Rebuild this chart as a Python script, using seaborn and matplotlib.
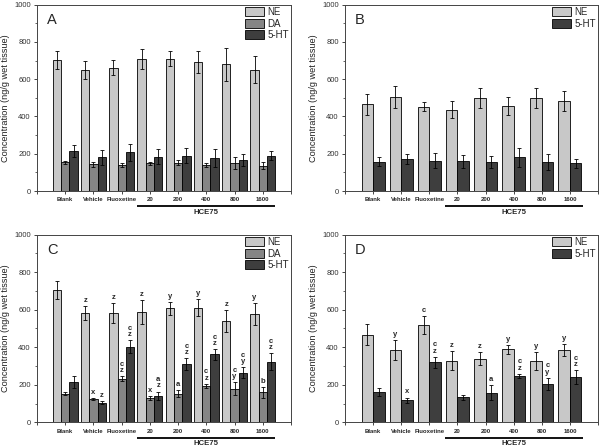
import numpy as np
import pandas as pd
import matplotlib
matplotlib.use("Agg")
import matplotlib.pyplot as plt
import matplotlib.transforms as mtrans
from matplotlib.ticker import MultipleLocator
import seaborn as sns

groups = ["Blank", "Vehicle", "Fluoxetine", "20", "200", "400", "800", "1600"]
series3 = ["NE", "DA", "5-HT"]
series2 = ["NE", "5-HT"]

# Panel A
A_NE = [703, 647, 662, 709, 711, 693, 680, 652]
A_NE_err = [50, 48, 40, 55, 38, 60, 90, 75]
A_DA = [153, 143, 140, 148, 152, 140, 150, 135]
A_DA_err = [10, 12, 12, 10, 12, 12, 33, 18]
A_HT = [215, 182, 208, 185, 190, 178, 168, 190]
A_HT_err = [33, 40, 45, 40, 40, 48, 32, 25]

# Panel B
B_NE = [465, 505, 453, 437, 498, 458, 498, 484]
B_NE_err = [55, 58, 25, 45, 55, 48, 55, 55]
B_HT = [158, 172, 163, 160, 158, 180, 154, 148]
B_HT_err = [22, 25, 42, 35, 32, 52, 42, 25]

# Panel C
C_NE = [705, 582, 583, 588, 608, 610, 540, 578]
C_NE_err = [50, 38, 55, 62, 35, 45, 58, 58]
C_DA = [153, 125, 233, 130, 153, 195, 180, 160]
C_DA_err = [10, 6, 12, 10, 18, 10, 33, 28]
C_HT = [215, 105, 403, 142, 310, 362, 265, 322]
C_HT_err = [32, 10, 33, 22, 33, 28, 28, 45]
C_NE_lab = ["", "z", "z", "z", "y", "y", "z", "y"]
C_DA_lab = ["", "x", "c\nz", "x", "a", "c\nz", "c\ny", "b"]
C_HT_lab = ["", "z", "c\nz", "a\nz", "c\nz", "c\nz", "c\ny", "c\nz"]

# Panel D
D_NE = [467, 385, 518, 328, 338, 388, 328, 385]
D_NE_err = [55, 55, 50, 50, 35, 25, 48, 33]
D_HT = [160, 117, 320, 133, 158, 247, 205, 240]
D_HT_err = [22, 15, 30, 12, 40, 12, 32, 38]
D_NE_lab = ["", "y", "c", "z", "z", "y", "y", "y"]
D_HT_lab = ["", "x", "c\nz", "", "a", "c\nz", "c\ny", "c\nz"]

colors = {"NE": "#c8c8c8", "DA": "#858585", "5-HT": "#3e3e3e"}

sns.set_style("ticks")
plt.rcParams["font.family"] = ["Liberation Sans", "DejaVu Sans"]

fig = plt.figure(figsize=(6, 4.47), dpi=100)

def panel(rect, letter, names, vals, errs, labs, width):
    ax = fig.add_axes(rect)
    rows = []
    for name, v in zip(names, vals):
        for g, val in zip(groups, v):
            rows.append({"group": g, "series": name, "value": val})
    df = pd.DataFrame(rows)
    sns.barplot(data=df, x="group", y="value", hue="series", order=groups,
                hue_order=names, palette=[colors[n] for n in names],
                width=width, edgecolor="black", linewidth=0.6, errorbar=None,
                saturation=1, ax=ax)
    for cont, v, e, lab in zip(ax.containers, vals, errs, labs):
        xs = [p.get_x() + p.get_width() / 2 for p in cont.patches]
        ax.errorbar(xs, v, yerr=e, fmt="none", ecolor="black",
                    elinewidth=0.6, capsize=1.5, capthick=0.6, zorder=5)
        if lab is not None:
            for x, val, er, t in zip(xs, v, e, lab):
                if t:
                    ax.annotate(t, (x, val + er), xytext=(0, 1.5),
                                textcoords="offset points", ha="center",
                                va="bottom", fontsize=5.5, fontweight="bold",
                                linespacing=0.85)
    ax.set_xlim(-1, 8)
    ax.set_ylim(0, 1000)
    ax.set_xticks(range(-1, 9))
    ax.set_xticklabels([""] + groups + [""], fontsize=4.3, fontweight="bold")
    ax.yaxis.set_major_locator(MultipleLocator(200))
    ax.yaxis.set_minor_locator(MultipleLocator(100))
    ax.tick_params(axis="y", which="major", labelsize=5.5, length=2.5,
                   width=0.6, labelcolor="#333333", pad=2)
    ax.tick_params(axis="y", which="minor", length=1.3, width=0.5)
    ax.tick_params(axis="x", length=2, width=0.6, pad=2.5)
    ax.set_xlabel("")
    ax.set_ylabel("Concentration (ng/g wet tissue)", fontsize=6.6, labelpad=3,
                  color="#222222")
    for s in ax.spines.values():
        s.set_linewidth(0.7)
        s.set_color("#444444")
    ax.text(0.04, 0.955, letter, transform=ax.transAxes, fontsize=10.5,
            va="top", ha="left")
    handles, labels_ = ax.get_legend_handles_labels()
    ax.legend(handles, labels_, loc="upper right", bbox_to_anchor=(1, 1),
              frameon=False, fontsize=7, handlelength=2.0, handleheight=1.0,
              handletextpad=0.3, labelspacing=0.15, borderaxespad=0.1,
              borderpad=0.15)
    tr = mtrans.blended_transform_factory(ax.transData, ax.transAxes)
    ax.plot([2.55, 7.45], [-0.082, -0.082], transform=tr, color="black",
            lw=1.3, clip_on=False, solid_capstyle="butt")
    ax.text(5.0, -0.115, "HCE75", transform=tr, ha="center", va="center",
            fontsize=5.6, fontweight="bold")
    return ax

panel([0.0617, 0.5727, 0.4233, 0.4169], "A", series3,
      [A_NE, A_DA, A_HT], [A_NE_err, A_DA_err, A_HT_err], [None] * 3, 0.88)
panel([0.575, 0.5727, 0.4217, 0.4169], "B", series2,
      [B_NE, B_HT], [B_NE_err, B_HT_err], [None] * 2, 0.82)
panel([0.0617, 0.0553, 0.4233, 0.4197], "C", series3,
      [C_NE, C_DA, C_HT], [C_NE_err, C_DA_err, C_HT_err],
      [C_NE_lab, C_DA_lab, C_HT_lab], 0.88)
panel([0.575, 0.0553, 0.4217, 0.4197], "D", series2,
      [D_NE, D_HT], [D_NE_err, D_HT_err], [D_NE_lab, D_HT_lab], 0.82)

fig.savefig("out.png", dpi=100)
